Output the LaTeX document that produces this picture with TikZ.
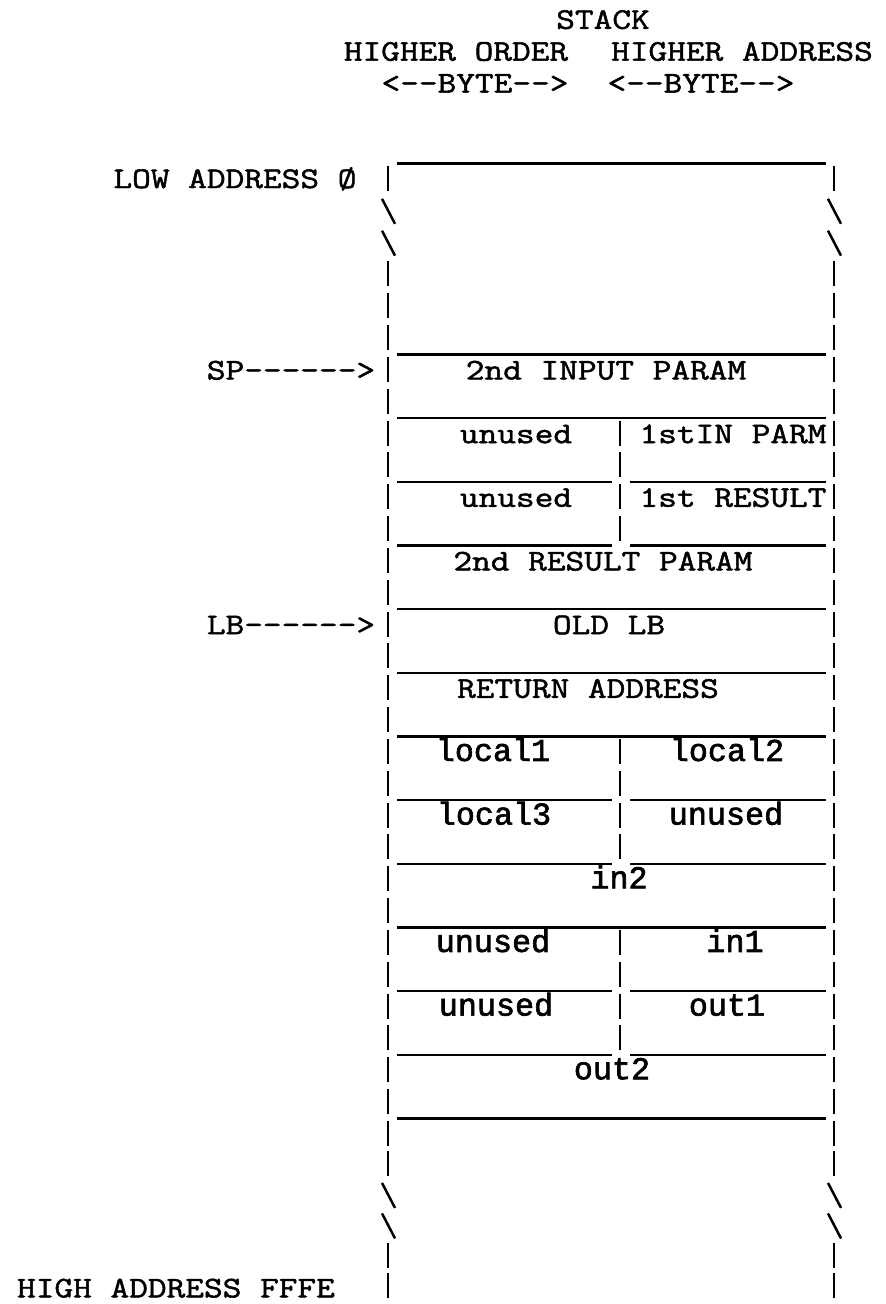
\documentclass[tikz,border=0pt]{standalone}
\usepackage{fontspec}
\newfontfamily\cellfont[FakeBold=2]{Liberation Mono}
\newfontfamily\labfont[FakeStretch=1.21,FakeBold=1.6]{Latin Modern Mono}
\begin{document}
\begin{tikzpicture}[x=1pt,y=-1pt,
  declare function={rt(\r)=(\r<=30)*(164+31.83*\r)+(\r>30)*(1118.9+30.5*(\r-30));},
  bar/.style={line width=2.8pt},
  hl/.style={line width=2.3pt},
  slash/.style={line width=2.5pt},
  txt/.style={font=\cellfont\fontsize{31.75pt}{32pt}\selectfont, anchor=base, inner sep=0pt},
  lbl/.style={font=\labfont\fontsize{30pt}{32pt}\selectfont, anchor=base, inner sep=0pt}]
\useasboundingbox (0,0) rectangle (886,1304);
% header
\node[lbl] (stack)  at (603,{rt(-5)+24}) {STACK};
\node[lbl] (hiord)  at (456,{rt(-4)+24}) {HIGHER ORDER};
\node[lbl] (hiaddr) at (742,{rt(-4)+24}) {HIGHER ADDRESS};
\node[lbl] (byte1)  at (475,{rt(-3)+24}) {<--BYTE-->};
\node[lbl] (byte2)  at (701,{rt(-3)+24}) {<--BYTE-->};
% left labels
\node[lbl] (low)  at (235,{rt(0)+24}) {LOW ADDRESS Ø};
\node[lbl] (sp)   at (291,{rt(6)+24.5}) {SP------>};
\node[lbl] (lb)   at (291,{rt(14)+24.5}) {LB------>};
\node[lbl] (high) at (176,{rt(35)+26}) {HIGH ADDRESS FFFE};
% outer walls
\foreach \r in {0,3,4,...,31,34,35} {
  \draw[bar] (388,{rt(\r)+2}) -- (388,{rt(\r)+27});
  \draw[bar] (834,{rt(\r)+2}) -- (834,{rt(\r)+27});
}
\foreach \r in {1,2,32,33} {
  \draw[slash] (382,{rt(\r)+3}) -- (395,{rt(\r)+28});
  \draw[slash] (828,{rt(\r)+3}) -- (841,{rt(\r)+28});
}
% middle walls
\foreach \r in {8,9,10,11,18,19,20,21,24,25,26,27}
  \draw[bar] (620,{rt(\r)+2}) -- (620,{rt(\r)+27});
% horizontal lines
\foreach \r in {0,6,8,14,16,18,24,30}
  \draw[hl] (397,{rt(\r)-0.5}) -- (826,{rt(\r)-0.5});
\foreach \r in {10,12,20,22,26,28} {
  \draw[hl] (397,{rt(\r)-0.5}) -- (612,{rt(\r)-0.5});
  \draw[hl] (630,{rt(\r)-0.5}) -- (826,{rt(\r)-0.5});
}
% cell texts (upper part, typewriter serif)
\node[lbl] (in2p)  at (606,{rt(6)+24.5}) {2nd INPUT PARAM};
\node[lbl] (un1)   at (516,{rt(8)+24.5}) {unused};
\node[lbl] (in1p)  at (733,{rt(8)+24.5}) {1stIN PARM};
\node[lbl] (un2)   at (516,{rt(10)+24.5}) {unused};
\node[lbl] (res1)  at (733,{rt(10)+24.5}) {1st RESULT};
\node[lbl] (res2)  at (603,{rt(12)+24.5}) {2nd RESULT PARAM};
\node[lbl] (oldlb) at (609,{rt(14)+24.5}) {OLD LB};
\node[lbl] (ret)   at (588,{rt(16)+24.5}) {RETURN ADDRESS};
% cell texts (lower part, gothic)
\node[txt] (loc1)  at (493,{rt(18)+24}) {local1};
\node[txt] (loc2)  at (727,{rt(18)+24}) {local2};
\node[txt] (loc3)  at (494,{rt(20)+24}) {local3};
\node[txt] (un3)   at (726,{rt(20)+24}) {unused};
\node[txt] (in2)   at (619,{rt(22)+24}) {in2};
\node[txt] (un4)   at (493,{rt(24)+24}) {unused};
\node[txt] (in1)   at (735,{rt(24)+24}) {in1};
\node[txt] (un5)   at (496,{rt(26)+24}) {unused};
\node[txt] (out1)  at (727,{rt(26)+24}) {out1};
\node[txt] (out2)  at (612,{rt(28)+24}) {out2};
\end{tikzpicture}
\end{document}
